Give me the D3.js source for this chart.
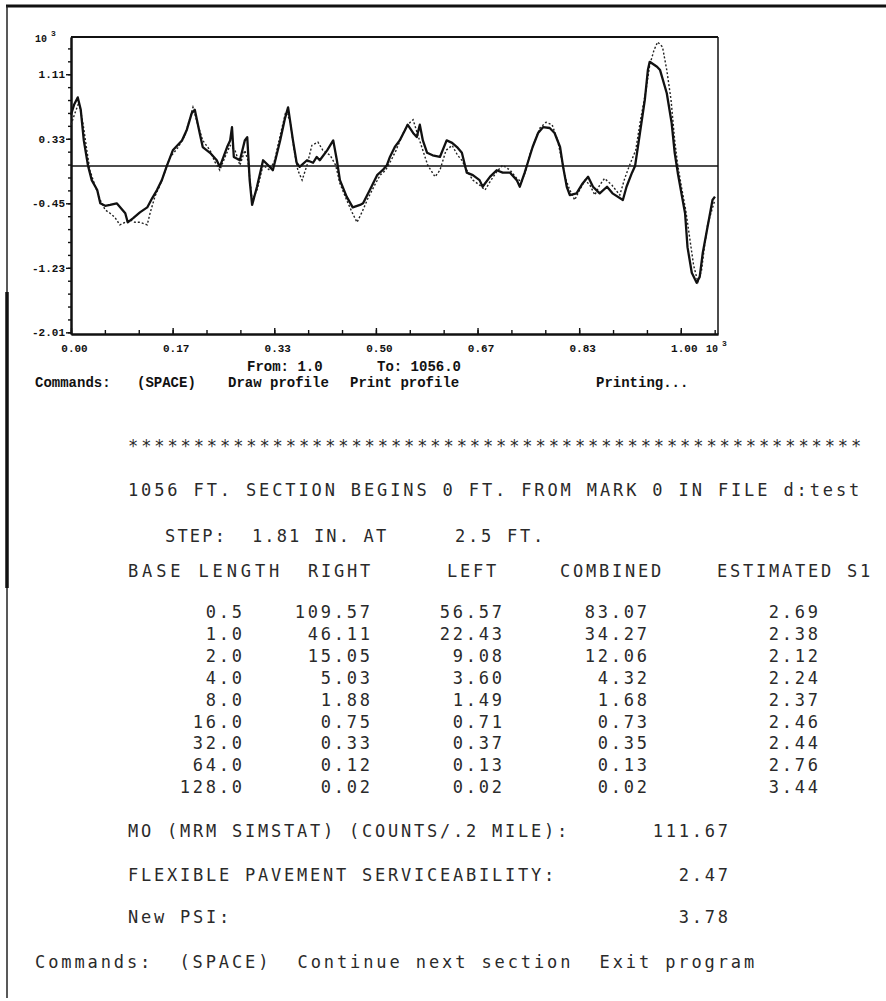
<!DOCTYPE html>
<html>
<head>
<meta charset="utf-8">
<script src="https://cdn.jsdelivr.net/npm/d3@7"></script>
<style>
  body { margin: 0; background: #fff; }
  .tick line { stroke: #111; stroke-width: 1.4; }
  .domain { stroke: #111; stroke-width: 2; }
</style>
</head>
<body>
<div id="chart"></div>
<script>
// profile trace, solid (distance ft, elevation x10^3)
var solidDist = [0,5,11,16,21,28,34,43,48,56,64,75,82,89,93,102,113,125,133,141,149,157,167,182,190,198,203,211,216,228,239,244,256,261,264,267,277,285,289,293,297,305,315,326,331,343,351,356,364,370,375,387,397,403,408,420,430,436,441,452,462,474,479,490,502,511,518,523,531,539,548,552,561,567,572,577,584,593,605,616,625,633,641,649,659,670,675,687,698,708,720,731,736,744,749,757,766,774,785,793,802,807,813,818,829,839,848,856,867,879,888,905,911,920,925,933,941,946,949,961,966,977,985,990,995,1002,1007,1011,1018,1026,1031,1036,1043,1048,1052,1056];
var solidElev = [0.62,0.74,0.83,0.68,0.31,0.00,-0.17,-0.29,-0.45,-0.48,-0.47,-0.45,-0.51,-0.57,-0.68,-0.63,-0.56,-0.50,-0.39,-0.29,-0.17,0.00,0.19,0.31,0.44,0.64,0.68,0.40,0.23,0.16,0.07,-0.01,0.23,0.31,0.47,0.11,0.07,0.31,0.35,-0.17,-0.47,-0.25,0.07,-0.01,-0.05,0.31,0.58,0.71,0.31,0.04,-0.01,0.07,0.04,0.11,0.07,0.19,0.31,0.07,-0.17,-0.37,-0.50,-0.47,-0.45,-0.29,-0.11,-0.05,0.01,0.11,0.23,0.31,0.44,0.50,0.40,0.35,0.50,0.31,0.16,0.13,0.11,0.31,0.28,0.23,0.16,-0.08,-0.11,-0.17,-0.25,-0.13,-0.05,-0.08,-0.08,-0.17,-0.25,-0.08,0.04,0.23,0.40,0.47,0.46,0.40,0.23,-0.01,-0.25,-0.35,-0.33,-0.21,-0.13,-0.25,-0.33,-0.25,-0.33,-0.41,-0.25,-0.08,0.00,0.40,0.80,1.16,1.26,1.20,1.16,0.88,0.52,0.16,-0.08,-0.37,-0.57,-0.98,-1.29,-1.41,-1.34,-1.05,-0.77,-0.57,-0.41,-0.37];

// profile trace, dotted
var dotDist = [0,7,13,20,26,31,39,48,56,64,72,80,89,97,105,113,125,130,138,146,154,162,175,187,195,200,208,216,228,236,244,252,261,269,277,285,290,297,305,315,326,334,343,352,359,366,372,379,387,395,405,413,425,434,441,452,461,469,477,487,498,507,516,525,533,543,552,561,569,577,585,597,605,615,625,634,641,649,659,670,679,687,698,708,720,731,739,746,752,761,769,779,789,798,805,811,818,826,834,843,851,859,867,875,887,900,908,916,926,934,943,949,956,962,970,977,984,990,995,1002,1008,1015,1021,1028,1034,1039,1044,1051,1056];
var dotElev = [0.50,0.65,0.77,0.50,0.19,-0.05,-0.23,-0.41,-0.53,-0.57,-0.62,-0.71,-0.68,-0.65,-0.68,-0.68,-0.71,-0.56,-0.36,-0.23,-0.07,0.10,0.22,0.37,0.58,0.71,0.50,0.31,0.19,0.05,-0.05,0.10,0.25,0.19,0.01,0.19,0.07,-0.41,-0.29,0.01,-0.05,0.07,0.37,0.65,0.56,0.19,-0.05,-0.17,0.01,0.25,0.29,0.19,0.13,0.01,-0.21,-0.41,-0.56,-0.68,-0.56,-0.39,-0.23,-0.11,-0.05,0.07,0.19,0.37,0.50,0.56,0.37,0.19,0.01,-0.13,-0.05,0.19,0.25,0.13,0.07,-0.05,-0.17,-0.23,-0.29,-0.19,-0.07,0.01,-0.05,-0.15,-0.19,-0.05,0.13,0.31,0.46,0.53,0.50,0.31,0.07,-0.15,-0.29,-0.41,-0.29,-0.17,-0.23,-0.35,-0.23,-0.15,-0.23,-0.35,-0.15,0.01,0.19,0.56,0.92,1.22,1.40,1.50,1.44,1.16,0.80,0.31,0.01,-0.29,-0.53,-0.89,-1.20,-1.40,-1.26,-0.96,-0.71,-0.53,-0.41];

// axis labels
var xTickLabels = ["0.00", "0.17", "0.33", "0.50", "0.67", "0.83", "1.00"];
var yTickLabels = ["-2.01", "-1.23", "-0.45", "0.33", "1.11"];

// roughness table
var baseLength = ["0.5", "1.0", "2.0", "4.0", "8.0", "16.0", "32.0", "64.0", "128.0"];
var rightVals  = ["109.57", "46.11", "15.05", "5.03", "1.88", "0.75", "0.33", "0.12", "0.02"];
var leftVals   = ["56.57", "22.43", "9.08", "3.60", "1.49", "0.71", "0.37", "0.13", "0.02"];
var combVals   = ["83.07", "34.27", "12.06", "4.32", "1.68", "0.73", "0.35", "0.13", "0.02"];
var estSI      = ["2.69", "2.38", "2.12", "2.24", "2.37", "2.46", "2.44", "2.76", "3.44"];
var tableHeads = ["BASE LENGTH", "RIGHT", "LEFT", "COMBINED", "ESTIMATED S1"];

var summaryLabels = ["MO (MRM SIMSTAT) (COUNTS/.2 MILE):", "FLEXIBLE PAVEMENT SERVICEABILITY:", "New PSI:"];
var summaryVals = ["111.67", "2.47", "3.78"];

var W = 886, H = 1001;
var svg = d3.select("#chart").append("svg")
    .attr("width", W)
    .attr("height", H);

// page edges
svg.append("line").attr("x1", 6).attr("x2", W).attr("y1", 6).attr("y2", 6)
    .style("stroke", "#111").style("stroke-width", 3);
svg.append("line").attr("x1", 7).attr("x2", 7).attr("y1", 6).attr("y2", 998)
    .style("stroke", "#222").style("stroke-width", 1.5);
svg.append("line").attr("x1", 7).attr("x2", 7).attr("y1", 292).attr("y2", 588)
    .style("stroke", "#111").style("stroke-width", 3.5);

// plot area
var plot = {left: 71, right: 718, top: 37, bottom: 334};
var x = d3.scaleLinear().domain([0, 1061]).range([plot.left, plot.right]);
var y = d3.scaleLinear().domain([-2.03, 1.56]).range([plot.bottom, plot.top]);

var tickFont = "'Liberation Mono', monospace";

// x axis, minor then labelled ticks
var xMinor = d3.range(0, 1061, 1000 / 18);
var xMajor = xTickLabels.map(function(d, i) { return i * 1000 / 6; });

svg.append("g")
    .attr("transform", "translate(0," + plot.bottom + ")")
    .call(d3.axisBottom(x).tickValues(xMinor).tickSize(-4).tickSizeOuter(0).tickFormat(""));

var xAx = svg.append("g")
    .attr("transform", "translate(0," + plot.bottom + ")")
    .call(d3.axisBottom(x).tickValues(xMajor).tickSize(-6).tickSizeOuter(0).tickPadding(10)
        .tickFormat(function(d, i) { return xTickLabels[i]; }));
xAx.selectAll("text")
    .style("font-family", tickFont).style("font-weight", "bold")
    .style("font-size", "11px").style("fill", "#111")
    .attr("dx", 3);

// y axis
var yMinor = d3.range(-2.01, 1.56, 0.156);
var yMajor = yTickLabels.map(Number);

svg.append("g")
    .attr("transform", "translate(" + plot.left + ",0)")
    .call(d3.axisLeft(y).tickValues(yMinor).tickSize(3).tickSizeOuter(0).tickFormat(""));

var yAx = svg.append("g")
    .attr("transform", "translate(" + plot.left + ",0)")
    .call(d3.axisLeft(y).tickValues(yMajor).tickSize(5).tickSizeOuter(0).tickPadding(1)
        .tickFormat(function(d, i) { return yTickLabels[i]; }));
yAx.selectAll("text")
    .style("font-family", tickFont).style("font-weight", "bold")
    .style("font-size", "11px").style("fill", "#111");

// frame top and right
svg.append("line").attr("x1", plot.left).attr("x2", plot.right).attr("y1", plot.top).attr("y2", plot.top)
    .style("stroke", "#111").style("stroke-width", 2);
svg.append("line").attr("x1", plot.right).attr("x2", plot.right).attr("y1", plot.top).attr("y2", plot.bottom)
    .style("stroke", "#111").style("stroke-width", 1.5);

// 10^3 multipliers
function mult(px, py) {
    var t = svg.append("text").attr("x", px).attr("y", py)
        .style("font-family", tickFont).style("font-weight", "bold")
        .style("font-size", "10px").style("fill", "#111");
    t.append("tspan").text("10");
    t.append("tspan").attr("dx", 4).attr("dy", -6).style("font-size", "8px").text("3");
}
mult(35, 42);
mult(706, 352);

// zero reference line
svg.append("line")
    .attr("x1", x(0)).attr("x2", plot.right)
    .attr("y1", y(0)).attr("y2", y(0))
    .style("stroke", "#111").style("stroke-width", 1.6);

var line = d3.line()
    .x(function(d) { return x(d[0]); })
    .y(function(d) { return y(d[1]); });

svg.append("path")
    .datum(d3.zip(dotDist, dotElev))
    .attr("d", line)
    .style("fill", "none").style("stroke", "#222")
    .style("stroke-width", 1.4).style("stroke-dasharray", "2,2");

svg.append("path")
    .datum(d3.zip(solidDist, solidElev))
    .attr("d", line)
    .style("fill", "none").style("stroke", "#111")
    .style("stroke-width", 2.3).style("stroke-linejoin", "round");

// screen command lines (bold printer font)
var boldFont = "'Liberation Mono', monospace";
function bold(txt, px, py) {
    svg.append("text").attr("x", px).attr("y", py).text(txt)
        .style("font-family", boldFont).style("font-weight", "bold")
        .style("font-size", "14px").style("fill", "#111")
        .attr("xml:space", "preserve");
}
bold("From: 1.0", 247, 371);
bold("To: 1056.0", 377, 371);
bold("Commands:", 35, 387);
bold("(SPACE)", 137, 387);
bold("Draw profile", 228, 387);
bold("Print profile", 350, 387);
bold("Printing...", 596, 387);

// printed report (thin dot matrix)
var repFont = "'DejaVu Sans Mono', monospace";
var pitch = 13, repSize = 17;
var ls = pitch - repSize * 0.602;
function rep(txt, px, py, anchor, len) {
    var t = svg.append("text")
        .attr("x", anchor === "end" ? px + ls : px)
        .attr("y", py)
        .attr("text-anchor", anchor || "start")
        .attr("xml:space", "preserve")
        .text(txt)
        .style("font-family", repFont).style("font-size", repSize + "px")
        .style("letter-spacing", ls + "px").style("fill", "#2a2a2a");
    if (len) t.attr("textLength", len).attr("lengthAdjust", "spacing");
    return t;
}

rep(d3.range(56).map(function() { return "*"; }).join(""), 128, 452, "start", 736);
rep("1056 FT. SECTION BEGINS 0 FT. FROM MARK 0 IN FILE d:test", 128, 496, "start", 734);
rep("STEP:  1.81 IN. AT", 165, 542, "start", 224);
rep("2.5 FT.", 455, 542);

var headX = [128, 308, 447, 560, 717];
var headW = [154, 0, 0, 0, 0];
tableHeads.forEach(function(h, i) { rep(h, headX[i], 577, "start", headW[i]); });

var colRight = [242, 370, 502, 647, 818];
var cols = [baseLength, rightVals, leftVals, combVals, estSI];
baseLength.forEach(function(b, r) {
    var py = 618 + r * 21.9;
    cols.forEach(function(c, ci) { rep(c[r], colRight[ci], py, "end"); });
});

var sumY = [837, 881, 923];
summaryLabels.forEach(function(s, i) {
    rep(s, 128, sumY[i]);
    rep(summaryVals[i], 728, sumY[i], "end");
});

rep("Commands:  (SPACE)  Continue next section  Exit program", 35, 968, "start", 722);
</script>
</body>
</html>
